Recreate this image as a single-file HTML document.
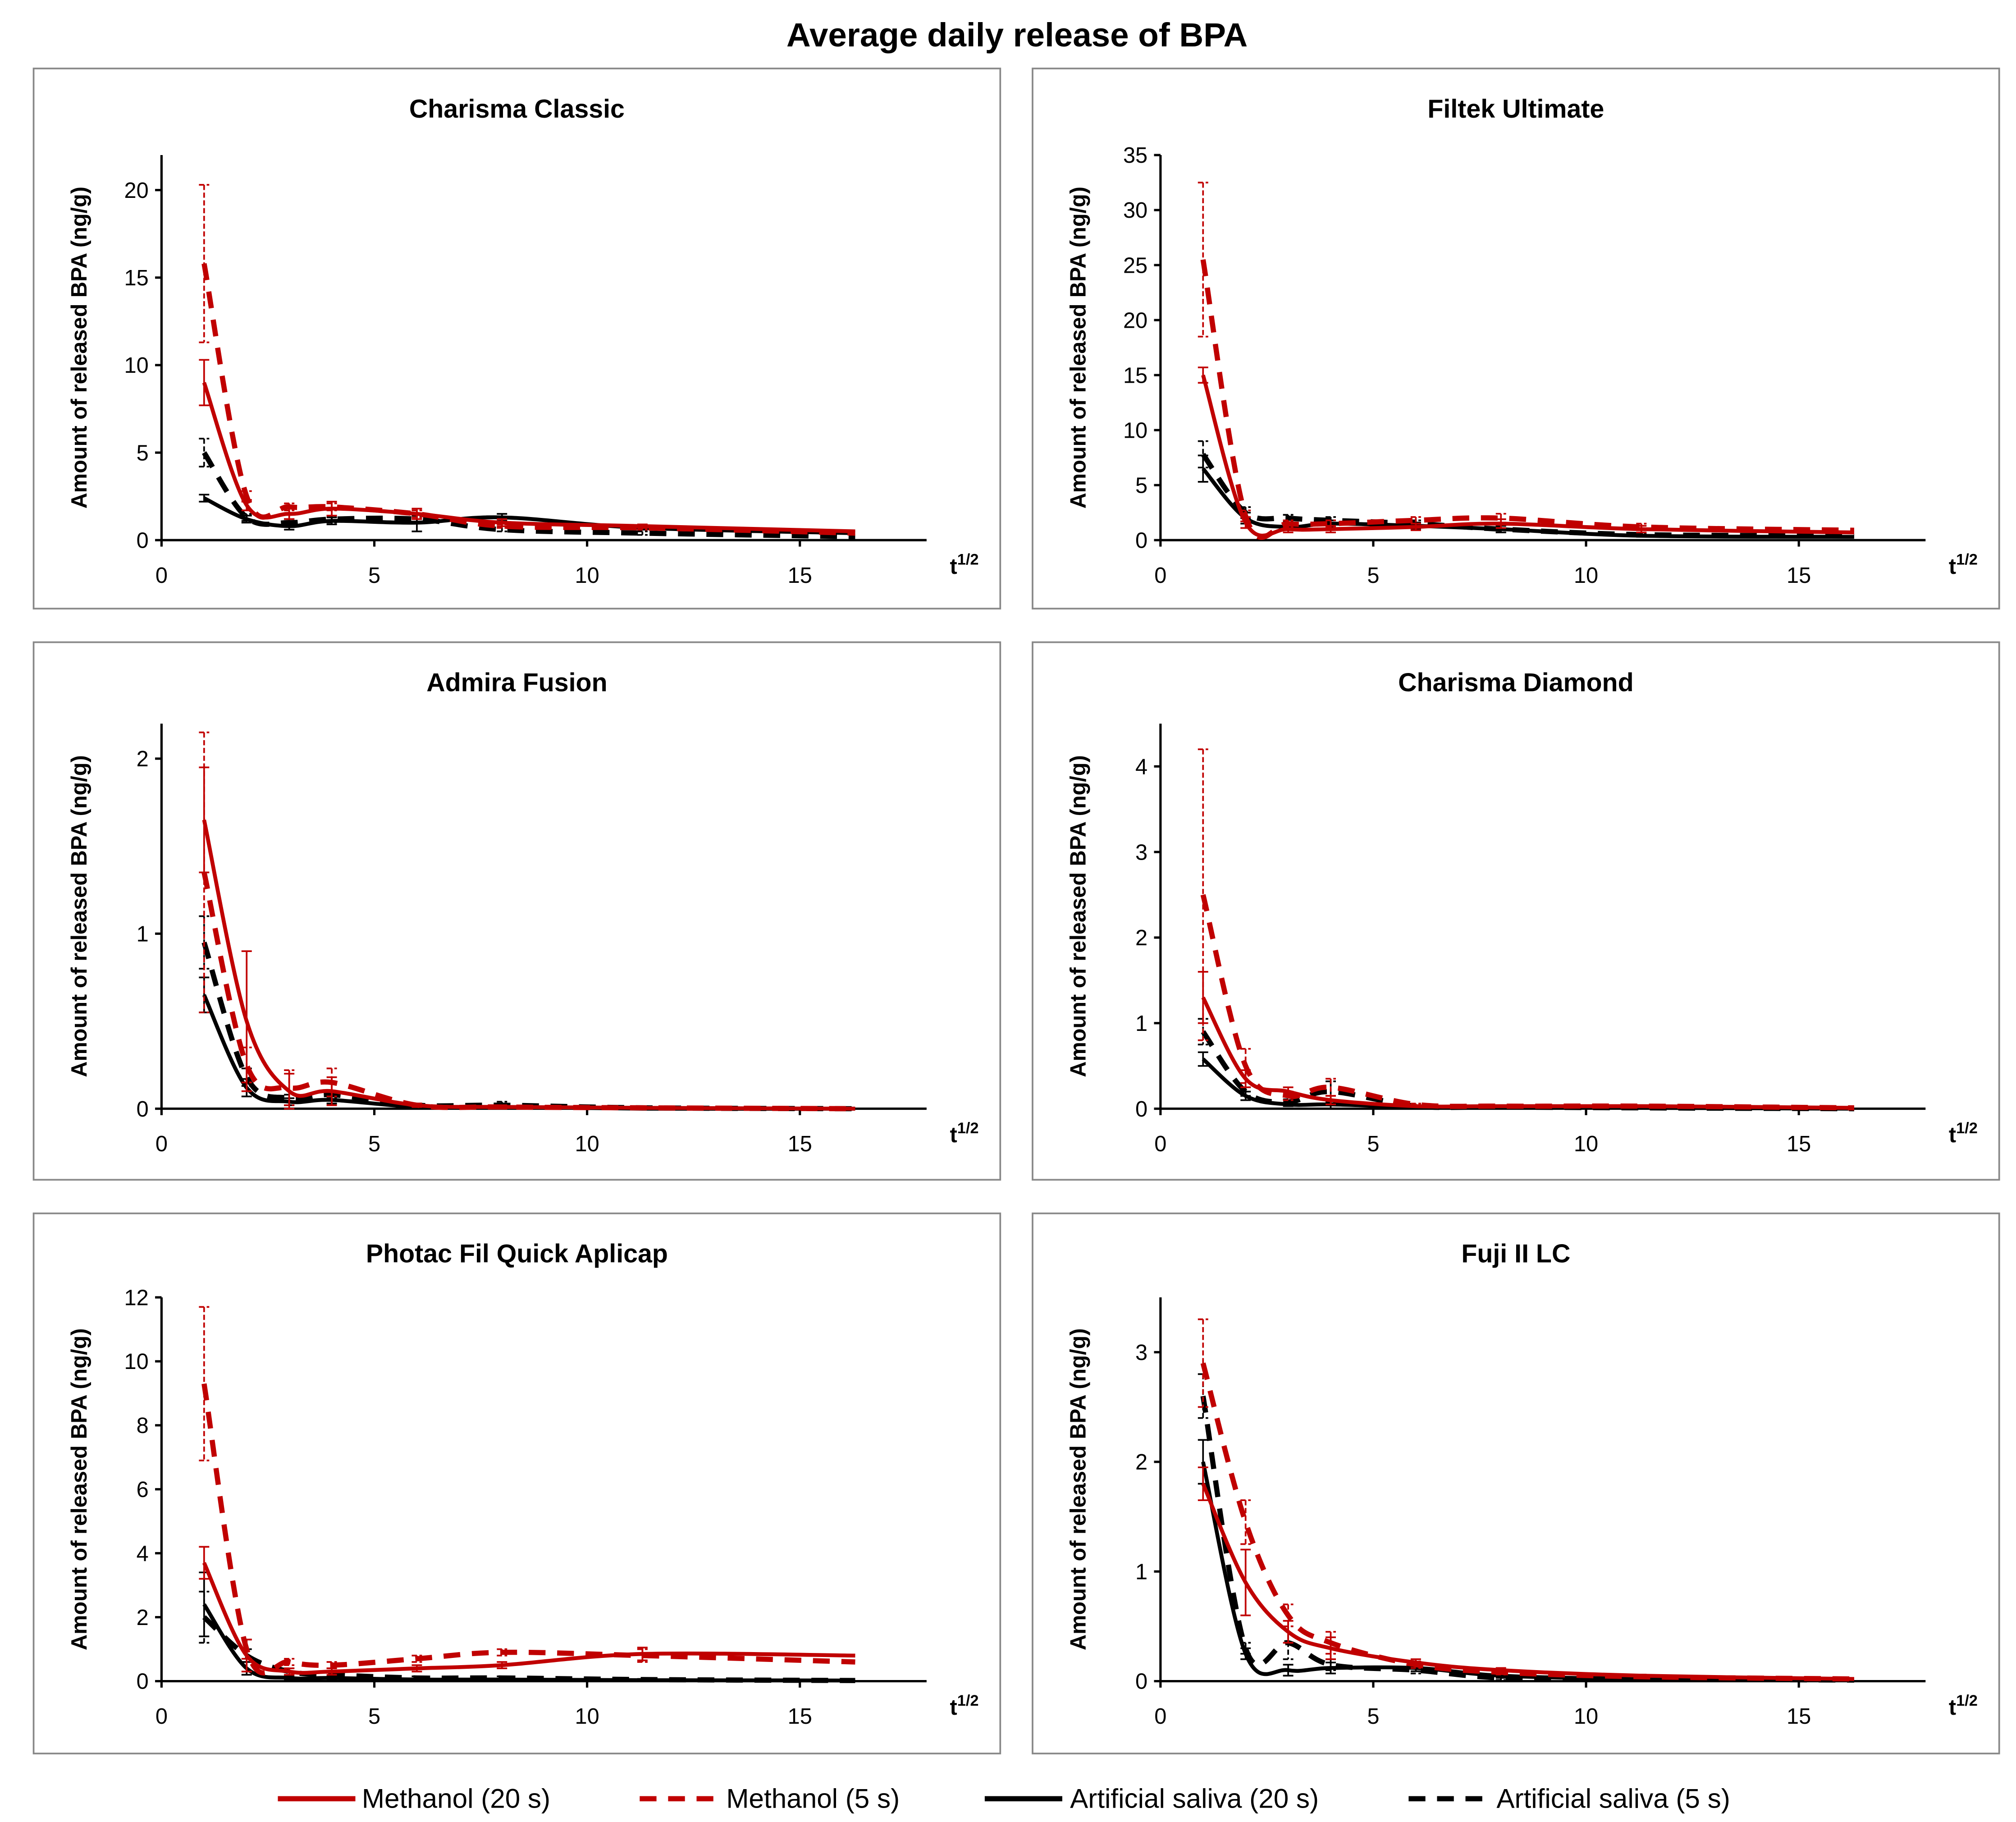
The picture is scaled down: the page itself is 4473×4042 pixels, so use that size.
<!DOCTYPE html>
<html><head><meta charset="utf-8"><style>
html,body{margin:0;padding:0;background:#fff;}
svg{display:block;font-family:"Liberation Sans",sans-serif;}
</style></head><body>
<svg id="chart" width="4473" height="4042" viewBox="0 0 1560 1410" preserveAspectRatio="none" xmlns="http://www.w3.org/2000/svg">
<rect x="0" y="0" width="1560" height="1410" fill="#fff"/>
<text x="787" y="36" text-anchor="middle" font-size="26" font-weight="bold">Average daily release of BPA</text>
<g id="panels"></g>
<g>
 <g><line x1="215" y1="1392" x2="275" y2="1392" stroke="#c00000" stroke-width="4"/><text x="280" y="1399" font-size="21">Methanol (20 s)</text></g>
 <g><line x1="495" y1="1392" x2="555" y2="1392" stroke="#c00000" stroke-width="4" stroke-dasharray="13 9"/><text x="562" y="1399" font-size="21">Methanol (5 s)</text></g>
 <g><line x1="762" y1="1392" x2="822" y2="1392" stroke="#000" stroke-width="4"/><text x="828" y="1399" font-size="21">Artificial saliva (20 s)</text></g>
 <g><line x1="1090" y1="1392" x2="1150" y2="1392" stroke="#000" stroke-width="4" stroke-dasharray="13 9"/><text x="1158" y="1399" font-size="21">Artificial saliva (5 s)</text></g>
</g>
</svg>
<script>
const xVals = [1, 2, 3, 4, 6, 8, 11.3, 16.3];
const xTicks = [0, 5, 10, 15];
const titles = ["Charisma Classic","Filtek Ultimate","Admira Fusion","Charisma Diamond","Photac Fil Quick Aplicap","Fuji II LC"];
const yMaxes = [22, 35, 2.2, 4.5, 12, 3.5];
const yTicks0 = [0,5,10,15,20];
const yTicks1 = [0,5,10,15,20,25,30,35];
const yTicks2 = [0,1,2];
const yTicks3 = [0,1,2,3,4];
const yTicks4 = [0,2,4,6,8,10,12];
const yTicks5 = [0,1,2,3];
// Charisma Classic
const p0_m20 = [9.0, 2.0, 1.5, 1.8, 1.5, 1.0, 0.8, 0.5];
const p0_m5  = [15.8, 2.5, 1.9, 1.9, 1.5, 0.8, 0.7, 0.4];
const p0_s20 = [2.4, 1.2, 0.8, 1.1, 1.0, 1.3, 0.7, 0.4];
const p0_s5  = [5.0, 1.3, 1.0, 1.2, 1.2, 0.6, 0.4, 0.2];
const p0_err = [[1.3,0.3,0.3,0.4,0.3,0.2,0.1,0.1],[4.5,0.3,0.2,0.2,0.2,0.1,0.1,0.1],[0.2,0.2,0.2,0.2,0.5,0.2,0.1,0.1],[0.8,0.2,0.2,0.2,0.2,0.1,0.1,0.1]];
// Filtek Ultimate
const p1_m20 = [15, 1.6, 1.0, 1.0, 1.2, 1.5, 1.0, 0.7];
const p1_m5  = [25.5, 2.2, 1.5, 1.5, 1.8, 2.0, 1.2, 0.9];
const p1_s20 = [6.5, 2.0, 1.2, 1.5, 1.3, 1.0, 0.4, 0.3];
const p1_s5  = [7.8, 2.5, 2.0, 1.8, 1.5, 1.0, 0.5, 0.4];
const p1_err = [[0.7,0.5,0.3,0.3,0.3,0.4,0.3,0.2],[7.0,0.5,0.3,0.3,0.3,0.4,0.3,0.2],[1.2,0.5,0.3,0.3,0.3,0.3,0.1,0.1],[1.2,0.5,0.3,0.3,0.3,0.3,0.1,0.1]];
// Admira Fusion
const p2_m20 = [1.65, 0.5, 0.1, 0.1, 0.02, 0.01, 0.005, 0];
const p2_m5  = [1.35, 0.25, 0.12, 0.15, 0.02, 0.01, 0.005, 0];
const p2_s20 = [0.65, 0.12, 0.04, 0.05, 0.01, 0.01, 0, 0];
const p2_s5  = [0.95, 0.18, 0.06, 0.08, 0.02, 0.02, 0.005, 0];
const p2_err = [[0.3,0.4,0.1,0.08,0.01,0.01,0,0],[0.8,0.1,0.1,0.08,0.01,0.01,0,0],[0.1,0.05,0.02,0.02,0.01,0.01,0,0],[0.15,0.05,0.02,0.02,0.01,0.02,0,0]];
// Charisma Diamond
const p3_m20 = [1.3, 0.35, 0.2, 0.1, 0.03, 0.03, 0.03, 0.01];
const p3_m5  = [2.5, 0.5, 0.15, 0.25, 0.05, 0.03, 0.03, 0.01];
const p3_s20 = [0.58, 0.15, 0.05, 0.05, 0.02, 0.01, 0.01, 0];
const p3_s5  = [0.9, 0.2, 0.08, 0.2, 0.03, 0.02, 0.01, 0];
const p3_err = [[0.3,0.1,0.05,0.05,0.01,0.01,0.01,0],[1.7,0.2,0.05,0.1,0.01,0.01,0.01,0],[0.08,0.05,0.02,0.05,0.01,0,0,0],[0.15,0.05,0.03,0.12,0.01,0,0,0]];
// Photac Fil Quick Aplicap
const p4_m20 = [3.7, 0.8, 0.3, 0.3, 0.4, 0.5, 0.85, 0.8];
const p4_m5  = [9.3, 1.0, 0.6, 0.5, 0.7, 0.9, 0.8, 0.6];
const p4_s20 = [2.4, 0.4, 0.1, 0.1, 0.05, 0.05, 0.03, 0.02];
const p4_s5  = [2.0, 0.8, 0.3, 0.2, 0.1, 0.1, 0.05, 0.02];
const p4_err = [[0.5,0.5,0.1,0.1,0.1,0.1,0.2,0.1],[2.4,0.3,0.1,0.1,0.1,0.1,0.2,0.1],[1.0,0.2,0.05,0.05,0.02,0.02,0.01,0.01],[0.8,0.2,0.1,0.1,0.05,0.05,0.02,0.01]];
// Fuji II LC
const p5_m20 = [1.8, 0.9, 0.45, 0.3, 0.17, 0.1, 0.05, 0.02];
const p5_m5  = [2.9, 1.45, 0.6, 0.35, 0.15, 0.08, 0.04, 0.02];
const p5_s20 = [2.0, 0.25, 0.1, 0.12, 0.12, 0.05, 0.02, 0.01];
const p5_s5  = [2.6, 0.3, 0.35, 0.15, 0.1, 0.03, 0.02, 0.01];
const p5_err = [[0.15,0.3,0.1,0.1,0.03,0.02,0.01,0.01],[0.4,0.2,0.1,0.1,0.03,0.02,0.01,0.01],[0.2,0.05,0.05,0.05,0.03,0.02,0.01,0],[0.2,0.05,0.15,0.05,0.03,0.02,0.01,0]];

const seriesData = [[p0_m20,p0_m5,p0_s20,p0_s5],[p1_m20,p1_m5,p1_s20,p1_s5],[p2_m20,p2_m5,p2_s20,p2_s5],[p3_m20,p3_m5,p3_s20,p3_s5],[p4_m20,p4_m5,p4_s20,p4_s5],[p5_m20,p5_m5,p5_s20,p5_s5]];
const errData = [p0_err,p1_err,p2_err,p3_err,p4_err,p5_err];
const yTickSets = [yTicks0,yTicks1,yTicks2,yTicks3,yTicks4,yTicks5];
const seriesNames = ["methanol-20s","methanol-5s","saliva-20s","saliva-5s"];
const colors = ["#c00000","#c00000","#000","#000"];
const dashed = [false,true,false,true];

const NS = "http://www.w3.org/2000/svg";
const root = document.getElementById("panels");
function mk(tag, attrs, parent){const e=document.createElementNS(NS,tag);for(const k in attrs)e.setAttribute(k,attrs[k]);parent.appendChild(e);return e;}
function smooth(pts){
  let d="M"+pts[0][0].toFixed(2)+","+pts[0][1].toFixed(2);
  for(let i=0;i<pts.length-1;i++){
    const p0=pts[i-1]||pts[i],p1=pts[i],p2=pts[i+1],p3=pts[i+2]||p2;
    const c1=[p1[0]+(p2[0]-p0[0])/6,p1[1]+(p2[1]-p0[1])/6];
    const c2=[p2[0]-(p3[0]-p1[0])/6,p2[1]-(p3[1]-p1[1])/6];
    d+=" C"+c1[0].toFixed(2)+","+c1[1].toFixed(2)+" "+c2[0].toFixed(2)+","+c2[1].toFixed(2)+" "+p2[0].toFixed(2)+","+p2[1].toFixed(2);
  }
  return d;
}
for(let p=0;p<6;p++){
  const col=p%2,row=Math.floor(p/2);
  const bx=col?799:26, by=[53,497,939][row], bh=[418,416,418][row];
  const ox=bx+99, y0=[418,858,1301][row], yTop=[120,560,1004][row];
  const unit=32.93;
  const xs=v=>ox+v*unit;
  const ys=v=>y0-(v/yMaxes[p])*(y0-yTop);
  const g=mk("g",{},root);
  
  
  mk("rect",{x:bx,y:by,width:748,height:bh,fill:"#fff",stroke:"#888","stroke-width":1.3},g);
  const t=mk("text",{x:bx+374,y:by+38,"text-anchor":"middle","font-size":20,"font-weight":"bold"},g);
  t.textContent=titles[p];
  
  
  const ax=mk("g",{stroke:"#000","stroke-width":1.8},g);
  
  
  mk("line",{x1:ox,y1:yTop,x2:ox,y2:y0},ax);
  mk("line",{x1:ox,y1:y0,x2:ox+592,y2:y0},ax);
  xTicks.forEach(v=>{
    mk("line",{x1:xs(v),y1:y0,x2:xs(v),y2:y0+5},ax);
    const tx=mk("text",{x:xs(v),y:y0+33,"text-anchor":"middle","font-size":17,stroke:"none"},g);
    tx.textContent=v;
    
    
  });
  yTickSets[p].forEach(v=>{
    mk("line",{x1:ox-5,y1:ys(v),x2:ox,y2:ys(v)},ax);
    const ty=mk("text",{x:ox-10,y:ys(v)+6,"text-anchor":"end","font-size":17},g);
    ty.textContent=v;
    
    
  });
  const xl=mk("text",{x:ox+610,y:y0+26,"font-size":17,"font-weight":"bold"},g);
  xl.innerHTML='t<tspan dy="-7" font-size="12">1/2</tspan>';
  
  
  const cy=(yTop+y0)/2, cx=bx+41;
  const yl=mk("text",{x:cx,y:cy,"text-anchor":"middle","font-size":17,"font-weight":"bold",transform:"rotate(-90 "+cx+" "+cy+")"},g);
  yl.textContent="Amount of released BPA  (ng/g)";
  
  
  for(let s=3;s>=0;s--){
    const vals=seriesData[p][s];
    const sg=mk("g",{},g);
    
    
    const errs=errData[p][s];
    vals.forEach((v,i)=>{
      if(i===vals.length-1)return;
      const e=errs[i],x=xs(xVals[i]);
      const eb=mk("path",{d:"M"+x+","+ys(v+e)+"V"+ys(Math.max(0,v-e))+"M"+(x-4)+","+ys(v+e)+"h8M"+(x-4)+","+ys(Math.max(0,v-e))+"h8",stroke:colors[s],"stroke-width":1.3,fill:"none","stroke-dasharray":dashed[s]?"4 2":"none"},sg);
      
      
    });
    const pts=vals.map((v,i)=>[xs(xVals[i]),ys(v)]);
    const ln=mk("path",{d:smooth(pts),fill:"none",stroke:colors[s],"stroke-width":dashed[s]?4:3,"stroke-dasharray":dashed[s]?"13 9":"none"},sg);
    
    
  }
}
</script>
</body></html>
